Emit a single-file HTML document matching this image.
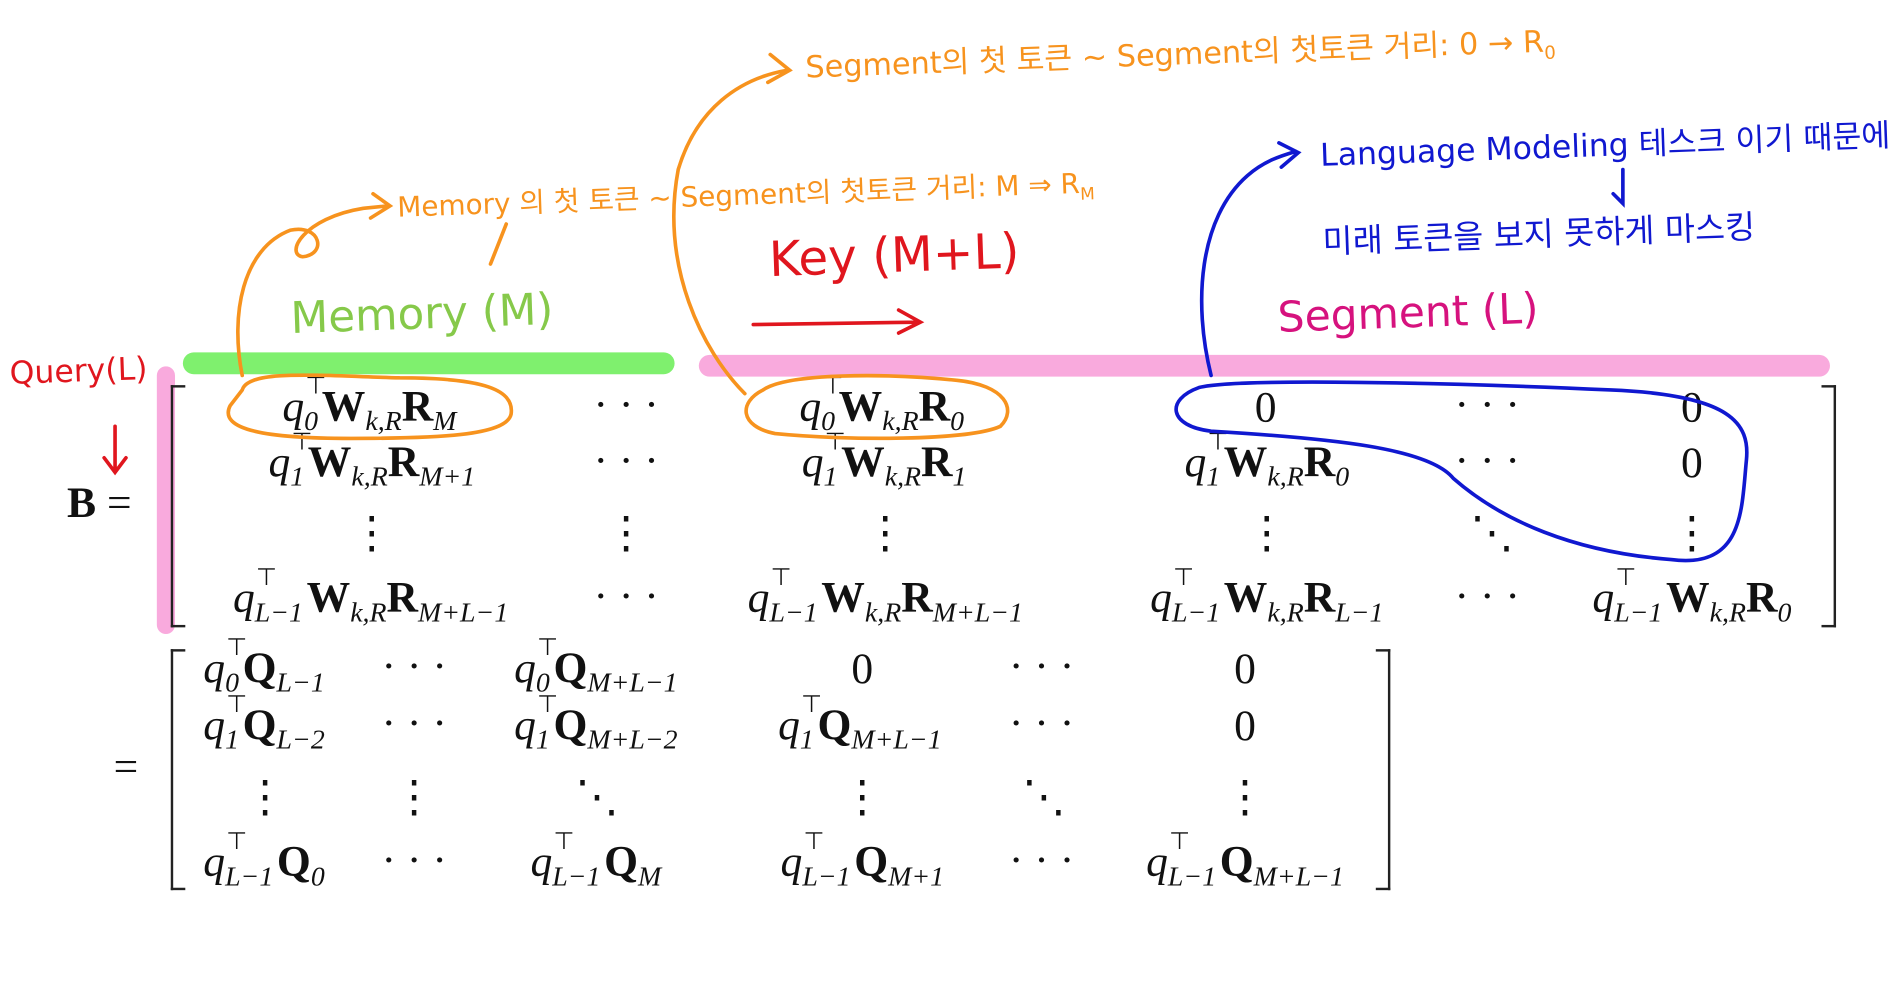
<!DOCTYPE html>
<html><head><meta charset="utf-8">
<style>
html,body{margin:0;padding:0;background:#fff;width:1899px;height:1000px;overflow:hidden}
#stage{position:absolute;left:0;top:0;width:1568px;height:826px;transform:scale(1.2111);transform-origin:0 0;font-family:"Liberation Serif",serif;color:#111}
.m{position:absolute;font-size:36px;white-space:nowrap;transform:translate(-50%,-50%);line-height:1}
.m i{font-style:italic}
.m b{font-weight:bold}
.m sub{font-size:23px;vertical-align:-8px;font-style:italic;line-height:1}
.ss{position:relative;display:inline-block;margin-right:3px;line-height:1}
.ss .u{position:absolute;left:1px;top:-8px;font-size:20px;font-style:normal}
.hw{position:absolute;font-family:"DejaVu Sans","Noto Sans CJK KR",sans-serif;white-space:nowrap;transform:rotate(-2deg);transform-origin:0 50%}
.br{position:absolute;border:2px solid #222;width:10px}
.brl{border-right:none}.brr{border-left:none}
svg{position:absolute;left:0;top:0}
</style></head><body>
<div id="stage">
<svg width="1568" height="826">
<line x1="160" y1="300" x2="548" y2="300" stroke="#7ff06e" stroke-width="18" stroke-linecap="round"/>
<line x1="586" y1="302" x2="1502" y2="302" stroke="#f9aadd" stroke-width="18" stroke-linecap="round"/>
<line x1="137" y1="310" x2="137" y2="516" stroke="#f9aadd" stroke-width="15" stroke-linecap="round"/>
</svg>

<div class="m" style="left:82px;top:415px"><b>B</b> =</div>
<div class="br brl" style="left:141px;top:318px;height:196px"></div>
<div class="br brr" style="left:1504px;top:318px;height:196px"></div>

<div class="m" style="left:305px;top:338px"><i>q</i><span class="ss"><sub>0</sub><span class="u">⊤</span></span><b>W</b><sub>k,R</sub><b>R</b><sub>M</sub></div>
<div class="m" style="left:517px;top:334px">· · ·</div>
<div class="m" style="left:728px;top:338px"><i>q</i><span class="ss"><sub>0</sub><span class="u">⊤</span></span><b>W</b><sub>k,R</sub><b>R</b><sub>0</sub></div>
<div class="m" style="left:1045px;top:336px">0</div>
<div class="m" style="left:1228px;top:334px">· · ·</div>
<div class="m" style="left:1397px;top:336px">0</div>

<div class="m" style="left:307px;top:384px"><i>q</i><span class="ss"><sub>1</sub><span class="u">⊤</span></span><b>W</b><sub>k,R</sub><b>R</b><sub>M+1</sub></div>
<div class="m" style="left:517px;top:380px">· · ·</div>
<div class="m" style="left:730px;top:384px"><i>q</i><span class="ss"><sub>1</sub><span class="u">⊤</span></span><b>W</b><sub>k,R</sub><b>R</b><sub>1</sub></div>
<div class="m" style="left:1046px;top:384px"><i>q</i><span class="ss"><sub>1</sub><span class="u">⊤</span></span><b>W</b><sub>k,R</sub><b>R</b><sub>0</sub></div>
<div class="m" style="left:1228px;top:380px">· · ·</div>
<div class="m" style="left:1397px;top:382px">0</div>

<div class="m" style="left:307px;top:440px">⋮</div>
<div class="m" style="left:517px;top:440px">⋮</div>
<div class="m" style="left:731px;top:440px">⋮</div>
<div class="m" style="left:1046px;top:440px">⋮</div>
<div class="m" style="left:1232px;top:440px">⋱</div>
<div class="m" style="left:1397px;top:440px">⋮</div>

<div class="m" style="left:306px;top:496px"><i>q</i><span class="ss"><sub>L−1</sub><span class="u">⊤</span></span><b>W</b><sub>k,R</sub><b>R</b><sub>M+L−1</sub></div>
<div class="m" style="left:517px;top:492px">· · ·</div>
<div class="m" style="left:731px;top:496px"><i>q</i><span class="ss"><sub>L−1</sub><span class="u">⊤</span></span><b>W</b><sub>k,R</sub><b>R</b><sub>M+L−1</sub></div>
<div class="m" style="left:1046px;top:496px"><i>q</i><span class="ss"><sub>L−1</sub><span class="u">⊤</span></span><b>W</b><sub>k,R</sub><b>R</b><sub>L−1</sub></div>
<div class="m" style="left:1228px;top:492px">· · ·</div>
<div class="m" style="left:1397px;top:496px"><i>q</i><span class="ss"><sub>L−1</sub><span class="u">⊤</span></span><b>W</b><sub>k,R</sub><b>R</b><sub>0</sub></div>

<div class="m" style="left:104px;top:633px">=</div>
<div class="br brl" style="left:141px;top:536px;height:195px"></div>
<div class="br brr" style="left:1136px;top:536px;height:195px"></div>

<div class="m" style="left:218px;top:554px"><i>q</i><span class="ss"><sub>0</sub><span class="u">⊤</span></span><b>Q</b><sub>L−1</sub></div>
<div class="m" style="left:342px;top:550px">· · ·</div>
<div class="m" style="left:492px;top:554px"><i>q</i><span class="ss"><sub>0</sub><span class="u">⊤</span></span><b>Q</b><sub>M+L−1</sub></div>
<div class="m" style="left:712px;top:552px">0</div>
<div class="m" style="left:860px;top:550px">· · ·</div>
<div class="m" style="left:1028px;top:552px">0</div>

<div class="m" style="left:218px;top:601px"><i>q</i><span class="ss"><sub>1</sub><span class="u">⊤</span></span><b>Q</b><sub>L−2</sub></div>
<div class="m" style="left:342px;top:597px">· · ·</div>
<div class="m" style="left:492px;top:601px"><i>q</i><span class="ss"><sub>1</sub><span class="u">⊤</span></span><b>Q</b><sub>M+L−2</sub></div>
<div class="m" style="left:710px;top:601px"><i>q</i><span class="ss"><sub>1</sub><span class="u">⊤</span></span><b>Q</b><sub>M+L−1</sub></div>
<div class="m" style="left:860px;top:597px">· · ·</div>
<div class="m" style="left:1028px;top:599px">0</div>

<div class="m" style="left:219px;top:658px">⋮</div>
<div class="m" style="left:342px;top:658px">⋮</div>
<div class="m" style="left:493px;top:658px">⋱</div>
<div class="m" style="left:712px;top:658px">⋮</div>
<div class="m" style="left:862px;top:658px">⋱</div>
<div class="m" style="left:1028px;top:658px">⋮</div>

<div class="m" style="left:218px;top:714px"><i>q</i><span class="ss"><sub>L−1</sub><span class="u">⊤</span></span><b>Q</b><sub>0</sub></div>
<div class="m" style="left:342px;top:710px">· · ·</div>
<div class="m" style="left:492px;top:714px"><i>q</i><span class="ss"><sub>L−1</sub><span class="u">⊤</span></span><b>Q</b><sub>M</sub></div>
<div class="m" style="left:712px;top:714px"><i>q</i><span class="ss"><sub>L−1</sub><span class="u">⊤</span></span><b>Q</b><sub>M+1</sub></div>
<div class="m" style="left:860px;top:710px">· · ·</div>
<div class="m" style="left:1028px;top:714px"><i>q</i><span class="ss"><sub>L−1</sub><span class="u">⊤</span></span><b>Q</b><sub>M+L−1</sub></div>

<svg width="1568" height="826">
<g fill="none" stroke="#f7931e" stroke-width="3" stroke-linecap="round">
<path d="M200,322 C205,305 260,310 330,312 C400,312 425,322 422,342 C418,360 360,362 290,362 C220,362 180,355 190,335 Z"/>
<path d="M630,322 C650,308 730,308 790,314 C830,318 840,338 826,352 C800,364 700,364 640,358 C610,352 610,332 630,322 Z"/>
<path d="M200,310 C190,260 200,205 240,190 C265,185 270,210 250,212 C235,210 250,180 300,172 L320,170 M308,160 L322,170 L306,180"/>
<path d="M615,325 C580,290 545,220 560,140 C575,90 610,65 650,58 M636,45 L652,58 L634,68"/>
<path d="M405,218 L418,185"/>
</g>
<g fill="none" stroke="#e0161e" stroke-width="3" stroke-linecap="round">
<path d="M622,268 L758,266 M742,256 L760,266 L742,275"/>
<path d="M95,352 L95,388 M86,378 L95,390 L104,378"/>
</g>
<g fill="none" stroke="#1018d0" stroke-width="3" stroke-linecap="round">
<path d="M990,320 C1020,312 1200,316 1330,322 C1430,326 1445,350 1442,380 C1438,420 1440,470 1380,462 C1300,456 1240,430 1200,395 C1180,370 1100,362 1000,356 C965,352 962,330 990,320 Z"/>
<path d="M1000,310 C985,250 990,180 1030,145 C1045,132 1060,128 1070,125 M1056,118 L1072,126 L1058,138"/>
<path d="M1340,140 L1340,168 L1332,160"/>
</g>
</svg>

<div class="hw" style="left:665px;top:36px;font-size:25px;color:#f7931e">Segment의 첫 토큰 ~ Segment의 첫토큰 거리: 0 → R<sub style="font-size:15px">0</sub></div>
<div class="hw" style="left:328px;top:152px;font-size:23px;color:#f7931e">Memory 의 첫 토큰 ~ Segment의 첫토큰 거리: M ⇒ R<sub style="font-size:14px">M</sub></div>
<div class="hw" style="left:635px;top:192px;font-size:40px;color:#e0161e">Key (M+L)</div>
<div class="hw" style="left:240px;top:243px;font-size:36px;color:#86c94a">Memory (M)</div>
<div class="hw" style="left:1055px;top:243px;font-size:35px;color:#d6127e">Segment (L)</div>
<div class="hw" style="left:8px;top:294px;font-size:26px;color:#e0161e">Query(L)</div>
<div class="hw" style="left:1090px;top:108px;font-size:26px;color:#1018d0">Language Modeling 테스크 이기 때문에</div>
<div class="hw" style="left:1092px;top:178px;font-size:27px;color:#1018d0">미래 토큰을 보지 못하게 마스킹</div>
</div>
</body></html>
